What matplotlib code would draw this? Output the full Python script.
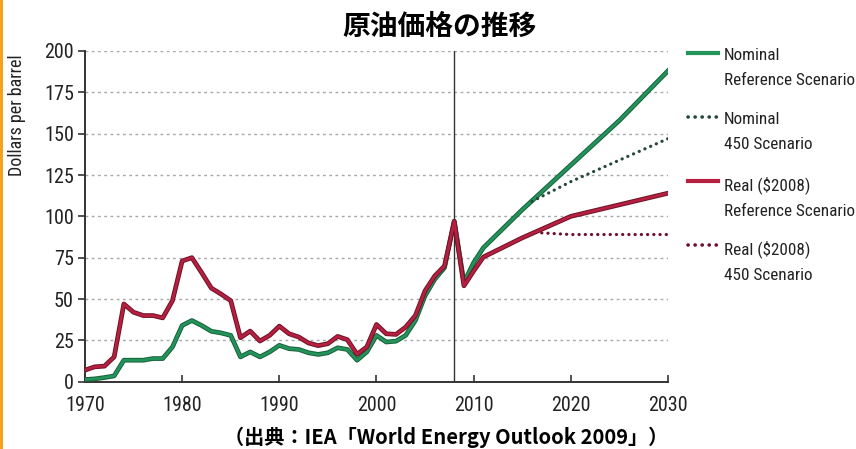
import matplotlib
matplotlib.use("Agg")
import matplotlib.pyplot as plt
from matplotlib.lines import Line2D
from matplotlib.patches import Rectangle
from matplotlib import font_manager as fm
import matplotlib.patheffects as pe

# ---- data ----
years = [1970, 1971, 1972, 1973, 1974, 1975, 1976, 1977, 1978, 1979,
         1980, 1981, 1982, 1983, 1984, 1985, 1986, 1987, 1988, 1989,
         1990, 1991, 1992, 1993, 1994, 1995, 1996, 1997, 1998, 1999,
         2000, 2001, 2002, 2003, 2004, 2005, 2006, 2007, 2008, 2009,
         2010, 2011, 2015, 2020, 2025, 2030]
nominal_ref = [1.3, 1.7, 2.5, 3.5, 13, 13, 13, 14, 14, 21,
               34, 37, 34, 30.5, 29.5, 28, 15, 18, 15, 18,
               22, 20, 19.5, 17.5, 16.5, 17.5, 20.5, 19.5, 13, 18,
               28, 24, 24.5, 28, 37, 52, 62, 69, 97, 60,
               72, 81, 104, 131, 158, 188]
real_ref = [7, 9, 9.4, 15, 47, 42, 40, 40, 38.6, 49,
            73, 75, 66, 56.6, 53, 49, 26.6, 30.6, 24.6, 28,
            33.6, 29, 27, 23.4, 21.8, 23, 27.4, 25.4, 16.6, 21,
            34.6, 29, 28.6, 33, 40, 55, 64, 70, 97, 58,
            67, 75.4, 87, 100, 107, 114]
years_nom450 = [2016, 2020, 2025, 2030]
nominal_450 = [109, 121, 134, 147]
years_real450 = [2017, 2020, 2030]
real_450 = [90, 89, 89]

x_ticks = [1970, 1980, 1990, 2000, 2010, 2020, 2030]
y_ticks = [0, 25, 50, 75, 100, 125, 150, 175, 200]
legend_labels = ["Nominal\nReference Scenario", "Nominal\n450 Scenario",
                 "Real ($2008)\nReference Scenario", "Real ($2008)\n450 Scenario"]
title = "原油価格の推移"
source = "（出典：IEA「World Energy Outlook 2009」）"

# ---- pick a condensed font if one is installed ----
def find_narrow():
    prefs = ["Liberation Sans Narrow", "DejaVu Sans Condensed", "Open Sans Condensed",
             "Roboto Condensed", "Noto Sans Condensed"]
    fl = fm.fontManager.ttflist
    for p in prefs:
        for f in fl:
            if f.name == p and f.style == "normal" and f.weight in (400, "normal", "regular"):
                return fm.FontProperties(fname=f.fname)
    for f in fl:
        if f.style == "normal" and f.weight in (400, "normal", "regular") and (
                "condensed" in str(f.stretch) or "Narrow" in f.name or "Condensed" in f.name
                or "Condensed" in f.fname or "Narrow" in f.fname):
            return fm.FontProperties(fname=f.fname)
    return None

_np = find_narrow()

def nfont(size):
    if _np is not None:
        fp = _np.copy()
        fp.set_size(size)
        return fp
    return fm.FontProperties(family="DejaVu Sans", size=size * 0.85)

cjk = ["Noto Sans CJK JP", "DejaVu Sans"]

GREEN = "#23935a"
GREEN_DK = "#17603c"
RED = "#b51f40"
RED_DK = "#6e1226"
NOM450 = "#24493a"
REAL450 = "#6e1030"

fig = plt.figure(figsize=(8.56, 4.49), dpi=100)
fig.patch.set_facecolor("white")
ax = fig.add_axes([85/856, 1-381.7/449, (668-85)/856, (381.7-51)/449])

for yv in y_ticks[1:]:
    ax.axhline(yv, color="#a8a8a8", lw=1.0, ls=(0, (2, 2.5)), zorder=1)
ax.axvline(2008, color="#333333", lw=1.0, zorder=2)

pe_g = [pe.Stroke(linewidth=3.4, foreground=GREEN_DK), pe.Normal()]
pe_r = [pe.Stroke(linewidth=3.4, foreground=RED_DK), pe.Normal()]
l1, = ax.plot(years, nominal_ref, color=GREEN, lw=2.0, zorder=3, path_effects=pe_g,
              solid_joinstyle="round")
l3, = ax.plot(years, real_ref, color=RED, lw=2.0, zorder=4, path_effects=pe_r,
              solid_joinstyle="round")
dot = (0, (0.05, 1.9))
l2, = ax.plot(years_nom450, nominal_450, color=NOM450, lw=2.3, ls=dot,
              dash_capstyle="round", zorder=3)
l4, = ax.plot(years_real450, real_450, color=REAL450, lw=2.3, ls=dot,
              dash_capstyle="round", zorder=3)

ax.set_xlim(1970, 2030)
ax.set_ylim(0, 200)
ax.set_xticks(x_ticks)
ax.set_yticks(y_ticks)
ax.set_xticklabels([str(v) for v in x_ticks], fontproperties=nfont(14.5), color="#222222")
ax.set_yticklabels([str(v) for v in y_ticks], fontproperties=nfont(14.5), color="#222222")
ax.tick_params(axis="x", direction="in", length=5, width=1.2, color="#333333", pad=10)
ax.tick_params(axis="y", direction="out", length=5, width=1.2, color="#333333", pad=3)
for s in ["top", "right"]:
    ax.spines[s].set_visible(False)
for s in ["left", "bottom"]:
    ax.spines[s].set_color("#333333")
    ax.spines[s].set_linewidth(1.4)

fig.text(17/856, 1-115/449, "Dollars per barrel", rotation=90, ha="center", va="center",
         fontproperties=nfont(13), color="#222222")

fig.text(440/856, 1-27/449, title, ha="center", va="center", family=cjk,
         fontsize=20, fontweight="bold", color="black")
fig.text(446/856, 1-437/449, source, ha="center", va="center", family=cjk,
         fontsize=14.5, fontweight="bold", color="black")

# legend (manual)
handles = [l1, l2, l3, l4]
ys = [53, 117, 181, 245]
for h, lab, yy in zip(handles, legend_labels, ys):
    yf = 1 - yy/449
    solid = h.get_linestyle() == "-"
    ln = Line2D([688/856, 718/856], [yf, yf], transform=fig.transFigure,
                color=h.get_color(), lw=3.0 if solid else 2.6,
                ls="-" if solid else (0, (0.05, 1.9)), dash_capstyle="round")
    fig.add_artist(ln)
    fig.text(724/856, yf + 5/449, lab, ha="left", va="top", fontproperties=nfont(12.3),
             color="#222222", linespacing=1.85, transform=fig.transFigure)

fig.add_artist(Rectangle((0, 0), 3/856, 1, transform=fig.transFigure,
                         facecolor="#f5a21c", edgecolor="none"))

fig.savefig("out.png", dpi=100)
